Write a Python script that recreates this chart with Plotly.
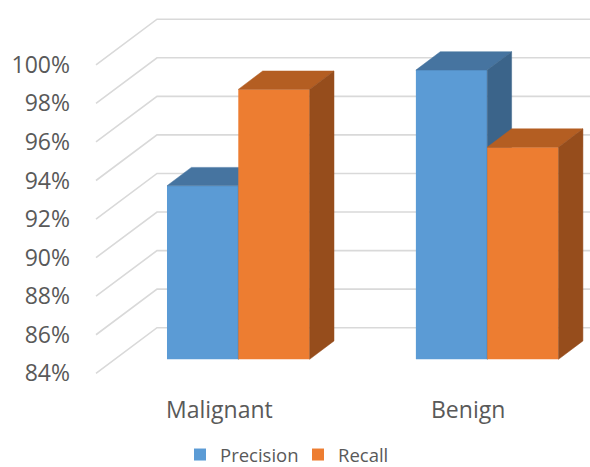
import plotly.graph_objects as go

# ---- data ----
categories = ["Malignant", "Benign"]
precision = [93.0, 99.0]
recall = [98.0, 95.0]
y_ticks = [84, 86, 88, 90, 92, 94, 96, 98, 100]

# ---- style / geometry ----
FONT = "Open Sans"
TXT = "#595959"
GRID = "#D9D9D9"
BLUE = dict(front="#5B9BD5", top="#4674A0", side="#3B648A")
ORNG = dict(front="#ED7D31", top="#B45E22", side="#964D1C")

BASE = 84.0
X_RANGE = [-0.636, 1.413]
Y_RANGE = [78.414, 102.636]
BAR_W = 0.2865
BAR_DX, BAR_DY = 0.098, 0.954        # bar depth (oblique offset)
FLOOR_DX, FLOOR_DY = 0.2451, 2.365   # full floor depth
FRONT_DX, FRONT_DY = 0.0752, 0.726   # label plane -> bar front plane
X_WALL = -0.3266                     # back wall left edge

xs = list(range(len(categories)))

fig = go.Figure()

# gridlines (oblique side wall + back wall)
for v in y_ticks:
    y0 = v - FRONT_DY
    y1 = y0 + FLOOR_DY
    x0 = X_WALL - FLOOR_DX
    fig.add_shape(type="path", xref="x", yref="y", layer="below",
                  path=f"M {x0},{y0} L {X_WALL},{y1} L {X_RANGE[1]},{y1}",
                  line=dict(color=GRID, width=1.6))


def add_series(name, vals, offset, colors, xa, ya):
    fig.add_trace(go.Bar(
        name=name, x=xs, y=[v - BASE for v in vals], base=BASE,
        width=BAR_W, offset=offset, marker=dict(color=colors["front"], line=dict(width=0)),
        xaxis=xa, yaxis=ya, hoverinfo="skip"))
    for i, v in zip(xs, vals):
        l = i + offset
        r = l + BAR_W
        # top face
        fig.add_trace(go.Scatter(
            x=[l, r, r + BAR_DX, l + BAR_DX, l],
            y=[v, v, v + BAR_DY, v + BAR_DY, v],
            fill="toself", fillcolor=colors["top"], mode="lines",
            line=dict(color=colors["top"], width=0.5),
            showlegend=False, hoverinfo="skip", xaxis=xa, yaxis=ya))
        # side face
        fig.add_trace(go.Scatter(
            x=[r, r, r + BAR_DX, r + BAR_DX, r],
            y=[BASE, v, v + BAR_DY, BASE + BAR_DY, BASE],
            fill="toself", fillcolor=colors["side"], mode="lines",
            line=dict(color=colors["side"], width=0.5),
            showlegend=False, hoverinfo="skip", xaxis=xa, yaxis=ya))


add_series("Precision", precision, -BAR_W, BLUE, "x", "y")
add_series("Recall", recall, 0.0, ORNG, "x2", "y2")

# dummy trace for the tick-label axis
fig.add_trace(go.Scatter(x=[None], y=[None], xaxis="x", yaxis="y3",
                         showlegend=False, hoverinfo="skip"))

# category labels (front plane)
for i, c in zip(xs, categories):
    fig.add_annotation(x=i - FRONT_DX, y=1 - 408.5 / 467, xref="x", yref="paper",
                       text=c, showarrow=False, xanchor="center", yanchor="middle",
                       font=dict(family=FONT, size=23, color=TXT))

hidden = dict(showgrid=False, zeroline=False, showticklabels=False,
              showline=False, ticks="")
fig.update_layout(
    width=590, height=467,
    margin=dict(l=80, r=0, t=0, b=0, autoexpand=False),
    paper_bgcolor="white", plot_bgcolor="rgba(0,0,0,0)",
    hovermode=False,
    xaxis=dict(range=X_RANGE, **hidden),
    yaxis=dict(range=Y_RANGE, **hidden),
    xaxis2=dict(range=X_RANGE, overlaying="x", **hidden),
    yaxis2=dict(range=Y_RANGE, overlaying="y", anchor="x2", **hidden),
    yaxis3=dict(range=[Y_RANGE[0] + FRONT_DY, Y_RANGE[1] + FRONT_DY],
                overlaying="y", anchor="x", side="left",
                tickvals=y_ticks, ticktext=[f"{t}%" for t in y_ticks],
                showgrid=False, zeroline=False, showline=False, ticks="",
                ticklabelstandoff=9,
                tickfont=dict(family=FONT, size=23, color=TXT)),
    legend=dict(orientation="h", xref="container", yref="container",
                x=180 / 590, y=12 / 467, xanchor="left", yanchor="middle",
                entrywidth=73, entrywidthmode="pixels",
                font=dict(family=FONT, size=18.5, color=TXT),
                bgcolor="rgba(0,0,0,0)", traceorder="normal"),
    font=dict(family=FONT, color=TXT),
)

fig.write_html("out.html")
